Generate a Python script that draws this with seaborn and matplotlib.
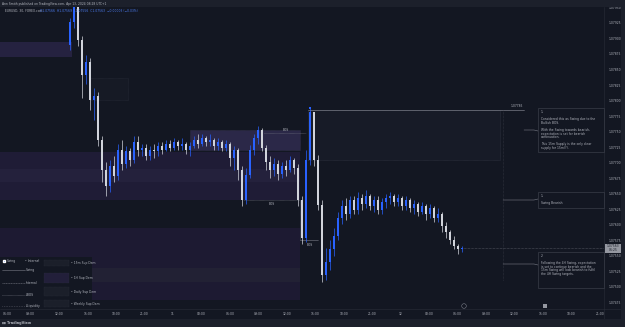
import matplotlib
matplotlib.use("Agg")
import matplotlib.pyplot as plt
import matplotlib.transforms as mtransforms
from matplotlib.patches import Rectangle
import seaborn as sns
import pandas as pd
import numpy as np

# ---------------- data ----------------
first_bar = 17
first_open = 1.07890
closes = [1.07927, 1.07952, 1.07898, 1.07841, 1.07862, 1.07801, 1.07807, 1.07736, 1.07688, 1.07663,
          1.07695, 1.07679, 1.07721, 1.07698, 1.07718, 1.07704, 1.07733, 1.07721, 1.07724, 1.07711,
          1.07721, 1.07718, 1.07727, 1.07721, 1.07730, 1.07724, 1.07733, 1.07727, 1.07730, 1.07721,
          1.07727, 1.07736, 1.07730, 1.07740, 1.07733, 1.07736, 1.07727, 1.07733, 1.07724, 1.07730,
          1.07708, 1.07721, 1.07688, 1.07640, 1.07680, 1.07721, 1.07740, 1.07753, 1.07724, 1.07701,
          1.07688, 1.07698, 1.07682, 1.07695, 1.07688, 1.07704, 1.07691, 1.07640, 1.07579, 1.07704,
          1.07782, 1.07704, 1.07632, 1.07519, 1.07540, 1.07560, 1.07582, 1.07611, 1.07630, 1.07617,
          1.07640, 1.07624, 1.07643, 1.07634, 1.07646, 1.07630, 1.07640, 1.07624, 1.07637, 1.07643,
          1.07646, 1.07637, 1.07643, 1.07630, 1.07640, 1.07627, 1.07634, 1.07621, 1.07630, 1.07617,
          1.07627, 1.07611, 1.07617, 1.07598, 1.07588, 1.07576, 1.07566, 1.07560, 1.07563]
highs = [1.07933, 1.07959, 1.07956, 1.07904, 1.07873, 1.07869, 1.07820, 1.07814, 1.07743, 1.07701,
         1.07704, 1.07711, 1.07730, 1.07736, 1.07727, 1.07724, 1.07743, 1.07743, 1.07730, 1.07730,
         1.07727, 1.07730, 1.07733, 1.07733, 1.07736, 1.07736, 1.07740, 1.07736, 1.07740, 1.07733,
         1.07733, 1.07743, 1.07746, 1.07746, 1.07743, 1.07746, 1.07740, 1.07740, 1.07736, 1.07736,
         1.07733, 1.07727, 1.07724, 1.07695, 1.07691, 1.07729, 1.07746, 1.07759, 1.07756, 1.07729,
         1.07711, 1.07708, 1.07704, 1.07701, 1.07704, 1.07711, 1.07708, 1.07698, 1.07646, 1.07721,
         1.07788, 1.07782, 1.07712, 1.07640, 1.07563, 1.07576, 1.07595, 1.07621, 1.07640, 1.07643,
         1.07646, 1.07646, 1.07653, 1.07649, 1.07656, 1.07649, 1.07646, 1.07646, 1.07643, 1.07649,
         1.07653, 1.07649, 1.07649, 1.07646, 1.07646, 1.07643, 1.07640, 1.07637, 1.07637, 1.07634,
         1.07634, 1.07630, 1.07627, 1.07621, 1.07605, 1.07592, 1.07582, 1.07569, 1.07566]
lows = [1.07882, 1.07917, 1.07888, 1.07804, 1.07827, 1.07785, 1.07769, 1.07727, 1.07669, 1.07646,
        1.07653, 1.07669, 1.07672, 1.07688, 1.07691, 1.07695, 1.07700, 1.07711, 1.07711, 1.07704,
        1.07704, 1.07708, 1.07711, 1.07714, 1.07718, 1.07718, 1.07721, 1.07721, 1.07721, 1.07714,
        1.07711, 1.07724, 1.07724, 1.07727, 1.07727, 1.07727, 1.07721, 1.07721, 1.07718, 1.07718,
        1.07695, 1.07688, 1.07672, 1.07630, 1.07634, 1.07675, 1.07712, 1.07730, 1.07718, 1.07688,
        1.07675, 1.07679, 1.07672, 1.07675, 1.07679, 1.07685, 1.07682, 1.07630, 1.07569, 1.07572,
        1.07696, 1.07695, 1.07624, 1.07508, 1.07511, 1.07527, 1.07550, 1.07576, 1.07601, 1.07608,
        1.07611, 1.07617, 1.07617, 1.07624, 1.07627, 1.07624, 1.07621, 1.07617, 1.07617, 1.07627,
        1.07634, 1.07630, 1.07630, 1.07624, 1.07624, 1.07621, 1.07617, 1.07614, 1.07617, 1.07608,
        1.07611, 1.07605, 1.07605, 1.07588, 1.07579, 1.07569, 1.07560, 1.07553, 1.07556]

price_labels = ["1.07950", "1.07925", "1.07900", "1.07875", "1.07850", "1.07825", "1.07800",
                "1.07775", "1.07750", "1.07725", "1.07700", "1.07675", "1.07650", "1.07625",
                "1.07600", "1.07575", "1.07550", "1.07525", "1.07500", "1.07475"]
time_labels = ["06:00", "09:00", "12:00", "15:00", "18:00", "21:00", "11", "03:00", "06:00",
               "09:00", "12:00", "15:00", "18:00", "21:00", "12", "03:00", "06:00", "09:00",
               "12:00", "15:00", "18:00", "21:00"]
swing_high = 1.07785
swing_high_label = "1.07785"
countdown_label = "06:25"
header_text = "Ann Smith published on TradingView.com, Apr 13, 2024 08:28 UTC+1"
symbol_text = "EURUSD, 30, FOREX.com"
ohlc_text = "O1.07566  H1.07569  L1.07556  C1.07563  −0.00003 (−0.03%)"

# ---------------- style ----------------
W, H = 625, 327
BG = "#131722"
PANEL = "#1c202b"
UP = "#2962ff"
DOWN = "#d1d4dc"
TXT = "#b2b5be"
GRID = "#2a2e39"
FS = 2.2

sns.set_theme(style="dark", rc={"axes.facecolor": BG, "figure.facecolor": BG,
                                "axes.edgecolor": BG, "text.color": TXT,
                                "xtick.color": TXT, "ytick.color": TXT})
plt.rcParams["font.family"] = ["DejaVu Sans"]

fig = plt.figure(figsize=(W / 100, H / 100), dpi=100)
PLOT_R, PLOT_B = 604, 309
ax = fig.add_axes([0, 1 - PLOT_B / H, PLOT_R / W, PLOT_B / H])
ax.set_facecolor(BG)
ax.set_xlim(-0.5, PLOT_R / 4 - 0.5)
ax.set_ylim(1.07464, 1.07962)

pix = mtransforms.Affine2D().scale(1 / W, -1 / H).translate(0, 1) + fig.transFigure

# ---------------- zones ----------------
zones = [  # bar0, bar1, top, bottom, color, edge
    (-0.5, 17.5, 1.07894, 1.07870, "#252240", None),
    (-0.5, 74.5, 1.07717, 1.07640, "#1f1c36", None),
    (-0.5, 74.5, 1.07690, 1.07668, "#24213c", None),
    (47.0, 74.5, 1.07753, 1.07721, "#2b2848", "#3a3950"),
    (-0.5, 74.5, 1.07595, 1.07479, "#1d1a32", None),
    (-0.5, 74.5, 1.07530, 1.07508, "#222134", None),
    (76.5, 124.5, 1.07785, 1.07704, "#171b27", "#3b3f4c"),
    (22.0, 31.5, 1.07836, 1.07801, "#161a25", "#2f3340"),
]
for b0, b1, top, bot, col, edge in zones:
    ax.add_patch(Rectangle((b0, bot), b1 - b0, top - bot, facecolor=col,
                           edgecolor=edge if edge else "none", lw=0.4,
                           ls=(0, (1, 1)) if edge else "-", zorder=1))

# structure lines
ax.plot([76.5, 130.5], [swing_high, swing_high], color="#787b86", lw=0.5, zorder=2)
ax.text(130.3, swing_high + 0.00003, swing_high_label, fontsize=FS, color=TXT, ha="right", va="bottom", zorder=3)
ax.plot([60.5, 74.5], [1.07640, 1.07640], color="#787b86", lw=0.4, ls=(0, (1, 1)), zorder=2)
ax.text(67.5, 1.07636, "BOS", fontsize=FS, color=TXT, ha="center", va="top", zorder=3)
ax.plot([65.5, 76.0], [1.07747, 1.07747], color="#787b86", lw=0.4, ls=(0, (1, 1)), zorder=2)
ax.text(71.0, 1.07750, "BOS", fontsize=FS, color=TXT, ha="center", va="bottom", zorder=3)
ax.plot([74.5, 79.0], [1.07576, 1.07576], color="#787b86", lw=0.4, zorder=2)
ax.text(77.0, 1.07571, "BOS", fontsize=FS, color=TXT, ha="center", va="top", zorder=3)
ax.plot([74.5, 74.5], [1.07576, 1.07640], color="#787b86", lw=0.4, ls=(0, (1, 1)), zorder=2)
ax.plot([125.25, 125.25], [1.07785, 1.07510], color="#434651", lw=0.4, ls=(0, (1, 1.5)), zorder=2)

# ---------------- candles ----------------
n = len(closes)
df = pd.DataFrame({"bar": np.arange(first_bar, first_bar + n),
                   "open": [first_open] + closes[:-1],
                   "close": closes, "high": highs, "low": lows})
df["high"] = df[["high", "open", "close"]].max(axis=1)
df["low"] = df[["low", "open", "close"]].min(axis=1)
df["up"] = df["close"] >= df["open"]
df["color"] = np.where(df["up"], UP, DOWN)
df["bottom"] = df[["open", "close"]].min(axis=1)
df["height"] = (df["close"] - df["open"]).abs().clip(lower=0.000012)

ax.vlines(df["bar"], df["low"], df["high"], colors=df["color"], lw=0.5, zorder=4)
ax.bar(df["bar"], df["height"], bottom=df["bottom"], width=0.62, color=df["color"],
       linewidth=0, zorder=5)
# swing markers
sns.scatterplot(x=[77], y=[df.loc[df["bar"] == 77, "high"].iloc[0]], ax=ax, marker="s",
                s=2.5, color=UP, linewidth=0, zorder=6, legend=False)

# last price line
last = closes[-1]
ax.plot([df["bar"].iloc[-1], PLOT_R / 4], [last, last], color="#787b86", lw=0.4,
        ls=(0, (1, 1.5)), zorder=3)

# ---------------- axes ticks ----------------
ax.yaxis.tick_right()
ax.set_yticks([float(p) for p in price_labels])
ax.set_yticklabels(price_labels)
ax.tick_params(axis="y", length=0, pad=3.6, labelsize=FS, labelcolor=TXT)
tick_pos = [(2.3 + 28.45 * k) / 4 - 0.5 for k in range(len(time_labels))]
ax.set_xticks(tick_pos)
ax.set_xticklabels(time_labels)
ax.tick_params(axis="x", length=0, pad=2.2, labelsize=FS, labelcolor=TXT)
first_lab = ax.get_xticklabels()[0]
first_lab.set_horizontalalignment("left")
ax.grid(False)
for s in ax.spines.values():
    s.set_visible(False)

# price tag
tag_y = 309 * (1.07962 - last) / (1.07962 - 1.07464)
fig.patches.append(Rectangle((605, tag_y - 3.5), 16, 9, transform=pix, facecolor="#9598a1",
                             edgecolor="none", zorder=10))
fig.text(613, tag_y - 1.4, f"{last:.5f}", transform=pix, fontsize=FS, color="#131722",
         ha="center", va="center", zorder=11)
fig.text(613, tag_y + 2.6, countdown_label, transform=pix, fontsize=FS, color="#131722",
         ha="center", va="center", zorder=11)

# ---------------- frame pieces ----------------
fig.patches.append(Rectangle((0, 0), W, 7, transform=pix, facecolor=PANEL, edgecolor="none", zorder=8))
fig.text(2, 3.5, header_text, transform=pix, fontsize=FS, color=TXT, va="center", zorder=9)
fig.text(5, 11, symbol_text, transform=pix, fontsize=FS, color=TXT, va="center", zorder=9)
fig.text(40, 11, ohlc_text, transform=pix, fontsize=FS, color="#4c7cf0", va="center", zorder=9)
fig.patches.append(Rectangle((0, 319), W, 8, transform=pix, facecolor=PANEL, edgecolor="none", zorder=8))
fig.text(2, 323, "▮▮ TradingView", transform=pix, fontsize=FS + 0.3, color=TXT, va="center",
         weight="bold", zorder=9)
fig.patches.append(Rectangle((621, 0), 4, H, transform=pix, facecolor=PANEL, edgecolor="none", zorder=8))
fig.lines.append(plt.Line2D([604, 604], [7, 319], transform=pix, color=GRID, lw=0.4))
fig.lines.append(plt.Line2D([0, 621], [309, 309], transform=pix, color=GRID, lw=0.4))
fig.patches.append(matplotlib.patches.Circle((464, 306), 2.3, transform=pix, facecolor="none",
                                             edgecolor="#787b86", lw=0.4, zorder=9))
fig.patches.append(Rectangle((543, 303.5), 4, 4.5, transform=pix, facecolor="#9598a1",
                             edgecolor="none", zorder=9))

# ---------------- right annotation boxes ----------------
boxes = [
    (108, 152, ["1.", "", "Considered this as Swing due to the", "Bullish BOS.", "",
                "With the Swing towards bearish,", "expectation is set for bearish",
                "continuation.", "", "This 15m Supply is the only clear", "supply for 15m(?)."]),
    (192, 208, ["1.", "", "Swing Bearish"]),
    (252, 288, ["2.", "", "Following the 4H Swing, expectation", "is set to continue bearish and the",
                "15m Swing will look bearish to fulfil", "the 4H Swing targets."]),
]
for top, bot, lines in boxes:
    fig.patches.append(Rectangle((538, top), 66, bot - top, transform=pix, facecolor=BG,
                                 edgecolor="#434651", lw=0.4, zorder=7))
    for i, ln in enumerate(lines):
        fig.text(541, top + 4 + i * 3.6, ln, transform=pix, fontsize=FS, color=TXT,
                 va="center", zorder=8)
for (x0, y0), (x1, y1) in [((524, 130), (538, 131)), ((503, 200), (538, 199)), ((503, 264), (538, 265))]:
    fig.lines.append(plt.Line2D([x0, x1 - 4, x1], [y0, y0, y1], transform=pix, color="#787b86", lw=0.4))

# ---------------- bottom-left legend ----------------
fig.patches.append(Rectangle((0, 257), 92, 52, transform=pix, facecolor=BG, edgecolor="none", zorder=7))
fig.patches.append(Rectangle((2.5, 259.5), 2.5, 2.5, transform=pix, facecolor=UP, zorder=8))
fig.text(7, 261, "Swing", transform=pix, fontsize=FS, color=TXT, va="center", zorder=8)
fig.text(25, 261, "• Internal", transform=pix, fontsize=FS, color=TXT, va="center", zorder=8)
leg_rows = [(270, "Swing", "-"), (283, "Internal", (0, (2, 1))), (295, "I-BOS", (0, (1, 1))),
            (306, "I-Liquidity", (0, (1, 2)))]
for y, lab, ls in leg_rows:
    fig.lines.append(plt.Line2D([2, 25], [y, y], transform=pix, color="#787b86", lw=0.4, ls=ls, zorder=8))
    fig.text(26, y, lab, transform=pix, fontsize=FS, color=TXT, va="center", zorder=8)
sd_rows = [(260, 266, "#1b1f2a", "15m Sup Dem"), (273, 283, "#221f3a", "1H Sup Dem"),
           (287, 296, "#1b1f2a", "Daily Sup Dem"), (300, 307, "#1b1f2a", "Weekly Sup Dem")]
for y0, y1, col, lab in sd_rows:
    fig.patches.append(Rectangle((44, y0), 25, y1 - y0, transform=pix, facecolor=col,
                                 edgecolor="#2f3340", lw=0.3, ls=(0, (1, 1)), zorder=8))
    fig.text(71, (y0 + y1) / 2, "• " + lab, transform=pix, fontsize=FS, color=TXT, va="center", zorder=8)

fig.savefig("out.png", dpi=100, facecolor=BG)
